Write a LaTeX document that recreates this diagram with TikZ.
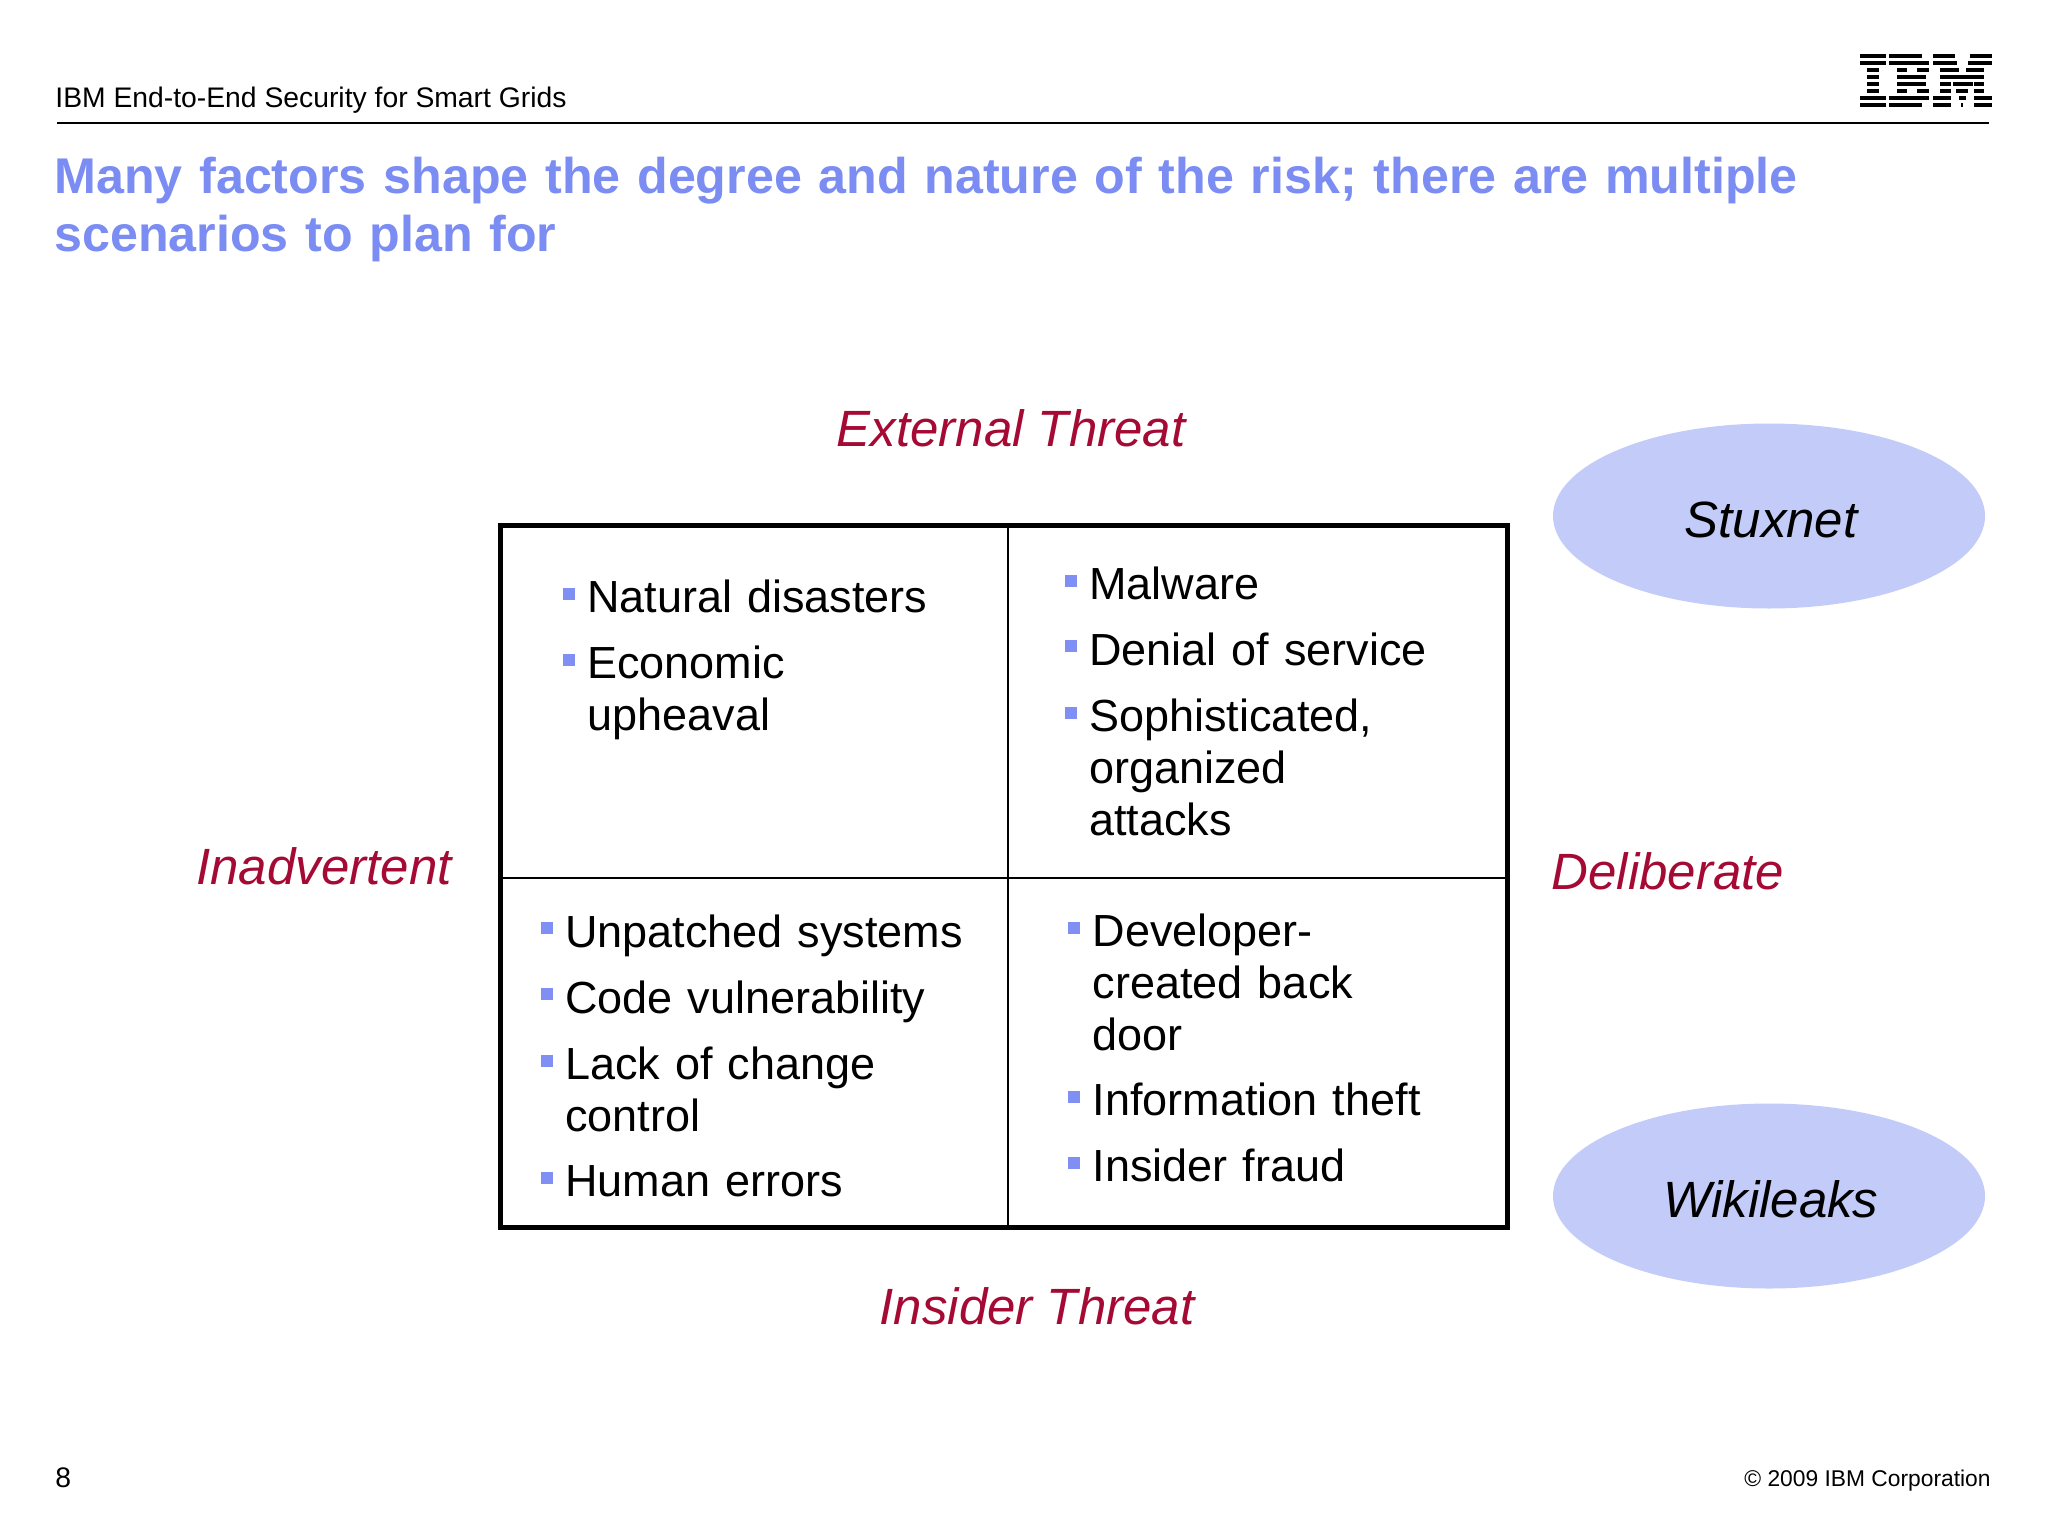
\documentclass[tikz,border=0pt]{standalone}
\usepackage{fontspec}
\setmainfont{Liberation Sans}
\usepackage{xcolor}
\usetikzlibrary{positioning, shapes.geometric}
\definecolor{titleblue}{HTML}{7B8CF2}
\definecolor{bulletblue}{HTML}{7F8FF4}
\definecolor{blobblue}{HTML}{C3CCF9}
\definecolor{axisred}{HTML}{A50A35}

\begin{document}
\begin{tikzpicture}[x=0.5pt, y=-0.5pt,
    item/.style={anchor=base west, inner sep=0pt, text width=200pt, align=left, font=\fontsize{22.5}{26}\selectfont},
    bul/.style={fill=bulletblue, inner sep=0pt, minimum size=6pt, xshift=-9.1pt, yshift=9.35pt},
    axis/.style={anchor=base, inner sep=0pt, text=axisred, font=\fontsize{25.5}{30}\selectfont\itshape},
    blob/.style={ellipse, fill=blobblue, minimum width=216pt, minimum height=92.5pt, inner sep=0pt},
    blobtext/.style={anchor=base, inner sep=0pt, font=\fontsize{25.5}{30}\selectfont\itshape},
    heavy/.style={line width=2.5pt, line cap=round},
    light/.style={line width=1.25pt}]

    \useasboundingbox (0,0) rectangle (2048,1536);

    % Draw header
    \node (header) [anchor=base west, inner sep=0pt, font=\fontsize{14.15}{17}\selectfont] at (55,108) {IBM End-to-End Security for Smart Grids};
    \coordinate (rulel) at (57,123);
    \coordinate (ruler) at (1989,123);
    \draw[light] (rulel) -- (ruler);
    \node (title) [item, text width=960pt, text=titleblue, font=\fontsize{25.1}{28.75}\selectfont\bfseries] at (54,193.5) {Many factors shape the degree and nature of the risk; there are multiple\\scenarios to plan for};

    % Draw logo
    \begin{scope}[shift={(1800,30)}, x=0.1667pt, y=-0.1667pt]
      \foreach \r/\a/\b in {0/180/257, 0/268/365, 0/398/465, 0/510/575,
          1/180/257, 1/268/388, 1/398/472, 1/503/575,
          2/202/236, 2/290/322, 2/352/388, 2/420/478, 2/497/553,
          3/202/236, 3/290/378, 3/420/553,
          4/202/236, 4/290/378, 4/420/452, 4/458/518, 4/522/553,
          5/202/236, 5/290/322, 5/352/388, 5/420/452, 5/468/505, 5/522/553,
          6/180/257, 6/268/388, 6/398/452, 6/476/497, 6/522/575,
          7/180/257, 7/268/365, 7/398/452, 7/482/490, 7/522/575}
        \fill ({\a},{71+21.2*\r}) rectangle ({\b},{82.5+21.2*\r});
    \end{scope}

    % Draw table
    \coordinate (tl) at (500.5,525.5);
    \coordinate (tr) at (1507,525.5);
    \coordinate (bl) at (500.5,1227);
    \coordinate (br) at (1507,1227);
    \coordinate (tm) at (1008,525.5);
    \coordinate (bm) at (1008,1227);
    \coordinate (ml) at (500.5,878);
    \coordinate (mr) at (1507,878);
    \draw[light] (tm) -- (bm);
    \draw[light] (ml) -- (mr);
    \draw[heavy] (tl) -- (tr) -- (br) -- (bl) -- cycle;

    % Draw items
    \node (a1) [item] at (587,612.5) {Natural disasters};
    \node (a2) [item] at (587,678.5) {Economic\\upheaval};
    \node (b1) [item] at (1089,599.5) {Malware};
    \node (b2) [item] at (1089,665) {Denial of service};
    \node (b3) [item] at (1089,731.5) {Sophisticated,\\organized\\attacks};
    \node (c1) [item] at (564.8,947) {Unpatched systems};
    \node (c2) [item] at (564.8,1013) {Code vulnerability};
    \node (c3) [item] at (564.8,1079.3) {Lack of change\\control};
    \node (c4) [item] at (564.8,1196.8) {Human errors};
    \node (d1) [item] at (1092.5,946.5) {Developer-\\created back\\door};
    \node (d2) [item] at (1092.5,1115.5) {Information theft};
    \node (d3) [item] at (1092.5,1181.5) {Insider fraud};

    % Draw bullets
    \foreach \n in {a1,a2,b1,b2,b3,c1,c2,c3,c4,d1,d2,d3}
      \node (\n bul) [bul] at (\n.base west) {};

    % Draw axis labels
    \node (external) [axis] at (1011,446.7) {External Threat};
    \node (insider) [axis] at (1037,1324) {Insider Threat};
    \node (inadvertent) [axis] at (324,884) {Inadvertent};
    \node (deliberate) [axis] at (1668,889) {Deliberate};

    % Draw ellipses
    \node (stuxnet) [blob] at (1769,516) {};
    \node (wikileaks) [blob] at (1769,1196) {};
    \node (stuxnettext) [blobtext] at (1771,537) {Stuxnet};
    \node (wikileakstext) [blobtext] at (1771,1217) {Wikileaks};

    % Draw footer
    \node (page) [anchor=base west, inner sep=0pt, font=\fontsize{14.15}{17}\selectfont] at (55,1487) {8};
    \node (copy) [anchor=base east, inner sep=0pt, font=\fontsize{11.4}{14}\selectfont] at (1991,1486) {© 2009 IBM Corporation};

\end{tikzpicture}
\end{document}
